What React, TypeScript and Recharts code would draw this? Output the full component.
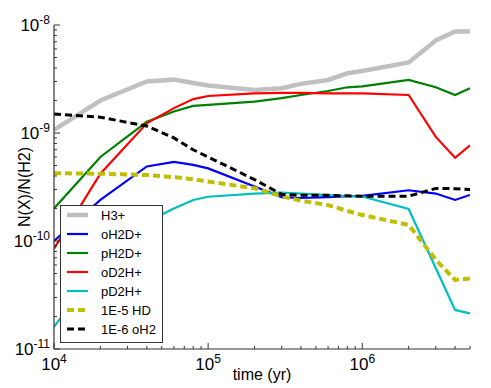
import React from "react";
import { LineChart, Line, XAxis, YAxis, Legend } from "recharts";

const times = [1e4, 2e4, 4e4, 6e4, 8e4, 1e5, 2e5, 3e5, 4e5, 6e5, 8e5, 1e6, 2e6, 3e6, 4e6, 5e6];

const h3p = [1.07e-9, 2.0e-9, 3.0e-9, 3.12e-9, 2.9e-9, 2.75e-9, 2.5e-9, 2.6e-9, 2.85e-9, 3.1e-9, 3.57e-9, 3.75e-9, 4.5e-9, 7.2e-9, 8.7e-9, 8.7e-9];
const oH2Dp = [1.0e-10, 2.4e-10, 4.9e-10, 5.4e-10, 5.06e-10, 4.7e-10, 3.2e-10, 2.55e-10, 2.5e-10, 2.55e-10, 2.6e-10, 2.62e-10, 2.95e-10, 2.75e-10, 2.4e-10, 2.67e-10];
const pH2Dp = [2.0e-10, 6.0e-10, 1.27e-9, 1.58e-9, 1.78e-9, 1.82e-9, 1.95e-9, 2.1e-9, 2.25e-9, 2.45e-9, 2.65e-9, 2.7e-9, 3.1e-9, 2.65e-9, 2.25e-9, 2.6e-9];
const oD2Hp = [8.5e-11, 4.2e-10, 1.23e-9, 1.7e-9, 2.06e-9, 2.2e-9, 2.33e-9, 2.35e-9, 2.35e-9, 2.33e-9, 2.33e-9, 2.33e-9, 2.25e-9, 9.2e-10, 5.9e-10, 7.7e-10];
const pD2Hp = [1.6e-11, 6.0e-11, 1.5e-10, 2.0e-10, 2.4e-10, 2.57e-10, 2.75e-10, 2.8e-10, 2.75e-10, 2.66e-10, 2.6e-10, 2.58e-10, 1.98e-10, 5.6e-11, 2.3e-11, 2.14e-11];
const hd1e5 = [4.24e-10, 4.2e-10, 4.08e-10, 3.9e-10, 3.73e-10, 3.55e-10, 3.08e-10, 2.6e-10, 2.36e-10, 2.15e-10, 1.9e-10, 1.74e-10, 1.41e-10, 6.7e-11, 4.36e-11, 4.5e-11];
const oH21e6 = [1.5e-9, 1.4e-9, 1.16e-9, 9.0e-10, 7.0e-10, 6.0e-10, 3.7e-10, 2.7e-10, 2.65e-10, 2.65e-10, 2.62e-10, 2.6e-10, 2.6e-10, 3.07e-10, 3.05e-10, 3.0e-10];

const seriesNames = ["H3+", "oH2D+", "pH2D+", "oD2H+", "pD2H+", "1E-5 HD", "1E-6 oH2"];
const seriesValues = [h3p, oH2Dp, pH2Dp, oD2Hp, pD2Hp, hd1e5, oH21e6];
const seriesStyles = [
  { color: "#c0c0c0", width: 4.5, dash: undefined },
  { color: "#0000ff", width: 2.2, dash: undefined },
  { color: "#008000", width: 2.2, dash: undefined },
  { color: "#ff0000", width: 2.2, dash: undefined },
  { color: "#00bfbf", width: 2.2, dash: undefined },
  { color: "#bfbf00", width: 4, dash: "7 4" },
  { color: "#000000", width: 3, dash: "7 4" },
];

const xTicks = [
  1e4, 2e4, 3e4, 4e4, 5e4, 6e4, 7e4, 8e4, 9e4,
  1e5, 2e5, 3e5, 4e5, 5e5, 6e5, 7e5, 8e5, 9e5,
  1e6, 2e6, 3e6, 4e6, 5e6,
];
const yTicks = [
  1e-11, 2e-11, 3e-11, 4e-11, 5e-11, 6e-11, 7e-11, 8e-11, 9e-11,
  1e-10, 2e-10, 3e-10, 4e-10, 5e-10, 6e-10, 7e-10, 8e-10, 9e-10,
  1e-9, 2e-9, 3e-9, 4e-9, 5e-9, 6e-9, 7e-9, 8e-9, 9e-9,
  1e-8,
];

const data = times.map((t, i) => {
  const row: Record<string, number> = { t };
  seriesNames.forEach((n, k) => {
    row[n] = seriesValues[k][i];
  });
  return row;
});

const FRAME = "#333333";
const FONT = "'Liberation Sans', Arial, sans-serif";

const expOf = (v: number) => Math.round(Math.log10(v));
const isMajor = (v: number) => Math.abs(Math.log10(v) - Math.round(Math.log10(v))) < 1e-6;

const BottomTick = (props: any) => {
  const { x, y, payload } = props;
  const v = payload.value;
  const major = isMajor(v);
  return (
    <g>
      <line x1={x} x2={x} y1={y} y2={y - (major ? 6 : 3)} stroke={FRAME} strokeWidth={1} />
      {major && (
        <text x={x} y={y + 21} textAnchor="middle" fontSize={17} fill="#000" fontFamily={FONT}>
          <tspan>10</tspan>
          <tspan dy={-7} fontSize={12}>{expOf(v)}</tspan>
        </text>
      )}
    </g>
  );
};

const TopTick = (props: any) => {
  const { x, y, payload } = props;
  const major = isMajor(payload.value);
  return <line x1={x} x2={x} y1={y} y2={y + (major ? 6 : 3)} stroke={FRAME} strokeWidth={1} />;
};

const LeftTick = (props: any) => {
  const { x, y, payload } = props;
  const v = payload.value;
  const major = isMajor(v);
  return (
    <g>
      <line x1={x} x2={x + (major ? 6 : 3)} y1={y} y2={y} stroke={FRAME} strokeWidth={1} />
      {major && (
        <text x={x - 4} y={y + 6} textAnchor="end" fontSize={17} fill="#000" fontFamily={FONT}>
          <tspan>10</tspan>
          <tspan dy={-7} fontSize={12}>{expOf(v)}</tspan>
        </text>
      )}
    </g>
  );
};

const RightTick = (props: any) => {
  const { x, y, payload } = props;
  const major = isMajor(payload.value);
  return <line x1={x} x2={x - (major ? 6 : 3)} y1={y} y2={y} stroke={FRAME} strokeWidth={1} />;
};

const LegendBox = () => {
  const rowY = (i: number) => 10 + i * 19;
  return (
    <svg width={103} height={138} style={{ display: "block" }}>
      <rect x={0.5} y={0.5} width={102} height={137} fill="#fff" stroke={FRAME} strokeWidth={1} />
      {seriesNames.map((n, i) => (
        <g key={n}>
          <line
            x1={7}
            x2={28}
            y1={rowY(i)}
            y2={rowY(i)}
            stroke={seriesStyles[i].color}
            strokeWidth={seriesStyles[i].width}
            strokeDasharray={seriesStyles[i].dash}
          />
          <text x={41} y={rowY(i)} dominantBaseline="central" fontSize={13} fontFamily={FONT} fill="#000">
            {n}
          </text>
        </g>
      ))}
    </svg>
  );
};

export default function App() {
  return (
    <div style={{ position: "absolute", left: 0, top: 0, background: "#fff" }}>
      <LineChart
        width={491}
        height={388}
        data={data}
        margin={{ top: 25, right: 21, bottom: 0, left: 0 }}
        style={{ fontFamily: FONT }}
      >
        <XAxis
          dataKey="t"
          type="number"
          scale="log"
          domain={[1e4, 5e6]}
          allowDataOverflow
          ticks={xTicks}
          interval={0}
          tickSize={0}
          tickMargin={0}
          tick={<BottomTick />}
          height={39}
          axisLine={{ stroke: FRAME, strokeWidth: 1.2 }}
          label={{
            content: (p: any) => {
              const vb = p.viewBox;
              return (
                <text x={vb.x + vb.width / 2} y={vb.y + 25} textAnchor="middle" dominantBaseline="central" fontSize={16} fontFamily={FONT} fill="#000">
                  time (yr)
                </text>
              );
            },
          }}
        />
        <XAxis
          xAxisId="top"
          orientation="top"
          dataKey="t"
          type="number"
          scale="log"
          domain={[1e4, 5e6]}
          allowDataOverflow
          ticks={xTicks}
          interval={0}
          tickSize={0}
          tickMargin={0}
          tick={<TopTick />}
          height={0}
          axisLine={{ stroke: FRAME, strokeWidth: 1.2 }}
        />
        <YAxis
          type="number"
          scale="log"
          domain={[1e-11, 1e-8]}
          allowDataOverflow
          ticks={yTicks}
          interval={0}
          tickSize={0}
          tickMargin={0}
          tick={<LeftTick />}
          width={54}
          axisLine={{ stroke: FRAME, strokeWidth: 1.2 }}
          label={{
            content: (p: any) => {
              const vb = p.viewBox;
              const cx = vb.x + 24;
              const cy = vb.y + vb.height / 2;
              return (
                <text x={cx} y={cy} transform={`rotate(-90, ${cx}, ${cy})`} textAnchor="middle" dominantBaseline="central" fontSize={16} fontFamily={FONT} fill="#000">
                  N(X)/N(H2)
                </text>
              );
            },
          }}
        />
        <YAxis
          yAxisId="right"
          orientation="right"
          type="number"
          scale="log"
          domain={[1e-11, 1e-8]}
          allowDataOverflow
          ticks={yTicks}
          interval={0}
          tickSize={0}
          tickMargin={0}
          tick={<RightTick />}
          width={0}
          axisLine={{ stroke: FRAME, strokeWidth: 1.2 }}
        />
        {seriesNames.map((n, i) => (
          <Line
            key={n}
            dataKey={n}
            type="linear"
            stroke={seriesStyles[i].color}
            strokeWidth={seriesStyles[i].width}
            strokeDasharray={seriesStyles[i].dash}
            dot={false}
            activeDot={false}
            isAnimationActive={false}
          />
        ))}
        <Legend
          layout="horizontal"
          verticalAlign="middle"
          align="center"
          content={() => <LegendBox />}
          wrapperStyle={{ left: 60, top: 205, width: 103, height: 138 }}
        />
      </LineChart>
    </div>
  );
}
